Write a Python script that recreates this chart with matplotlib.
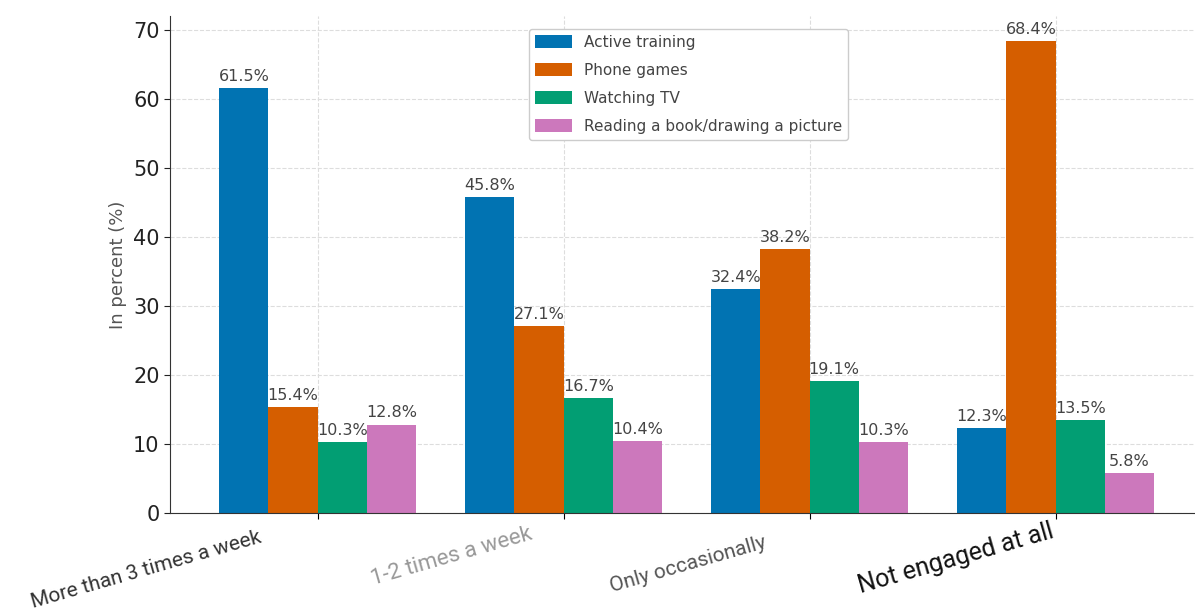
import matplotlib.pyplot as plt
import matplotlib.transforms as mtransforms
import numpy as np

# 資料
categories = ['More than 3 times a week', '1-2 times a week', 'Only occasionally', 'Not engaged at all']
series_names = ['Active training', 'Phone games', 'Watching TV', 'Reading a book/drawing a picture']
active_training = [61.5, 45.8, 32.4, 12.3]
phone_games = [15.4, 27.1, 38.2, 68.4]
watching_tv = [10.3, 16.7, 19.1, 13.5]
reading_drawing = [12.8, 10.4, 10.3, 5.8]

colors = ['#0173B2', '#D55E00', '#029E73', '#CC78BC']
series = [active_training, phone_games, watching_tv, reading_drawing]

fig = plt.figure(figsize=(11.95, 6.14), dpi=100)
ax = fig.add_axes([0.1423, 0.1645, 0.8645, 0.8095])

x = np.arange(len(categories))
width = 0.2
for i, (vals, name, c) in enumerate(zip(series, series_names, colors)):
    pos = x + (i - 1.5) * width
    bars = ax.bar(pos, vals, width, color=c, label=name, zorder=2)
    for bar, v in zip(bars, vals):
        ax.text(bar.get_x() + bar.get_width() / 2, bar.get_height() + 0.6,
                f'{v}%', ha='center', va='bottom', fontsize=11.5, color='#444444')

ax.set_xlim(-0.6, 3.6)
ax.set_ylim(0, 72)
ax.set_yticks(range(0, 71, 10))
ax.tick_params(axis='y', labelsize=15, colors='#222222', length=4)
ax.set_ylabel('In percent (%)', fontsize=13, color='#555555')

ax.set_xticks(x)
ax.set_xticklabels(categories, rotation=16, ha='right', rotation_mode='anchor',
                   family=['Roboto', 'DejaVu Sans'])
ax.tick_params(axis='x', length=4, pad=2)
# 各標籤的樣式與偏移 (原圖標籤位置不一)
lbl_colors = ['#333333', '#999999', '#555555', '#111111']
lbl_sizes = [15, 16, 15, 18]
lbl_dx = [-0.59, -0.35, -0.46, -0.06]
lbl_dy = [-0.06, -0.02, -0.12, 0.02]
for lbl, col, fs, dx, dy in zip(ax.get_xticklabels(), lbl_colors, lbl_sizes, lbl_dx, lbl_dy):
    lbl.set_color(col)
    lbl.set_fontsize(fs)
    lbl.set_transform(lbl.get_transform() + mtransforms.ScaledTranslation(dx, dy, fig.dpi_scale_trans))

ax.grid(True, linestyle='--', color='#dddddd', linewidth=0.8, zorder=0)
ax.set_axisbelow(True)
for s in ['top', 'right']:
    ax.spines[s].set_visible(False)
ax.spines['left'].set_color('#333333')
ax.spines['bottom'].set_color('#333333')

ax.legend(loc='upper left', bbox_to_anchor=(0.34, 0.99), fontsize=11,
          handlelength=2.4, handleheight=0.9, labelspacing=0.85,
          framealpha=1, edgecolor='#cccccc', labelcolor='#444444')

plt.savefig('out.png', dpi=100, facecolor='white')
